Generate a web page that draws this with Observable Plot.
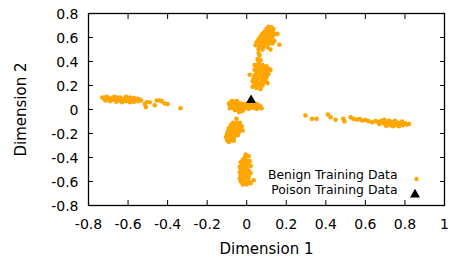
<!DOCTYPE html>
<html><head><meta charset="utf-8">
<script src="https://cdn.jsdelivr.net/npm/d3@7"></script>
<script src="https://cdn.jsdelivr.net/npm/@observablehq/plot@0.6"></script>
<style>body{margin:0;background:#fff} svg{font-family:"DejaVu Sans",sans-serif}</style>
</head><body><div id="chart"></div>
<script>
const xTicks = [-0.8, -0.6, -0.4, -0.2, 0, 0.2, 0.4, 0.6, 0.8, 1];
const yTicks = [-0.8, -0.6, -0.4, -0.2, 0, 0.2, 0.4, 0.6, 0.8];
const xLabel = "Dimension 1";
const yLabel = "Dimension 2";
const legendLabels = ["Benign Training Data", "Poison Training Data"];

const benignLeftArm = [[-0.73,0.10],[-0.72,0.09],[-0.71,0.105],[-0.70,0.08],[-0.70,0.10],[-0.69,0.07],[-0.68,0.095],[-0.67,0.08],[-0.67,0.105],[-0.66,0.065],[-0.65,0.09],[-0.64,0.10],[-0.64,0.075],[-0.63,0.06],[-0.62,0.09],[-0.61,0.105],[-0.61,0.07],[-0.60,0.085],[-0.59,0.06],[-0.59,0.10],[-0.58,0.08],[-0.57,0.095],[-0.57,0.065],[-0.56,0.085],[-0.55,0.07],[-0.55,0.09],[-0.54,0.08],[-0.715,0.075],[-0.685,0.085],[-0.655,0.10],[-0.625,0.08],[-0.595,0.075],[-0.565,0.075],[-0.535,0.075],
  [-0.515,0.045],[-0.51,0.02],[-0.505,0.06],[-0.49,0.06],[-0.465,0.035],[-0.455,0.075],[-0.44,0.075],[-0.43,0.07],[-0.415,0.05],[-0.40,0.045],[-0.335,0.01]];
const benignCenter = [[-0.09,0.05],[-0.085,0.03],[-0.08,0.06],[-0.075,0.04],[-0.07,0.015],[-0.065,0.065],[-0.06,0.045],[-0.055,0.02],[-0.05,0.0],[-0.045,0.055],[-0.04,0.035],[-0.035,0.01],[-0.03,-0.015],[-0.03,0.05],[-0.02,0.03],[-0.015,0.005],[-0.01,0.045],[0.0,0.02],[0.005,0.04],[0.01,0.005],[0.02,0.03],[0.03,0.015],[0.035,0.045],[0.045,0.025],[0.05,0.005],[0.06,0.035],[0.065,0.015],[0.07,0.025],[-0.04,-0.02],[-0.06,-0.005],
  [-0.075,0.07],[-0.05,0.07],[-0.085,0.01],[-0.02,-0.01],[0.015,0.055],[0.05,0.045],[0.075,0.01]];
const benignUpperMid = [[0.04,0.37],[0.06,0.38],[0.08,0.37],[0.10,0.36],[0.05,0.35],[0.07,0.35],[0.09,0.345],[0.11,0.34],[0.04,0.33],[0.06,0.325],[0.08,0.33],[0.10,0.32],[0.12,0.33],[0.05,0.305],[0.07,0.30],[0.09,0.30],[0.11,0.295],[0.015,0.29],[0.04,0.285],[0.06,0.28],[0.08,0.275],[0.10,0.27],[0.035,0.26],[0.055,0.255],[0.075,0.25],[0.095,0.25],[0.03,0.235],[0.05,0.23],[0.07,0.225],[0.09,0.23],[0.105,0.22],[0.04,0.21],[0.06,0.205],[0.08,0.20],[0.03,0.19],[0.05,0.18],[0.07,0.17],
  [0.06,0.47],[0.065,0.45],[0.055,0.42],[0.07,0.41],[0.06,0.395]];
const benignUpperTop = [[0.11,0.69],[0.125,0.685],[0.10,0.67],[0.12,0.665],[0.135,0.67],[0.09,0.65],[0.11,0.65],[0.13,0.645],[0.08,0.63],[0.10,0.625],[0.12,0.625],[0.14,0.63],[0.155,0.63],[0.07,0.61],[0.09,0.605],[0.11,0.60],[0.13,0.605],[0.06,0.585],[0.08,0.58],[0.10,0.58],[0.12,0.575],[0.14,0.57],[0.05,0.56],[0.07,0.555],[0.09,0.555],[0.11,0.55],[0.13,0.55],[0.165,0.54],[0.045,0.535],[0.065,0.53],[0.085,0.525],[0.105,0.52],[0.12,0.50],[0.06,0.505],[0.08,0.50]];
const benignLowerLeft = [[-0.052,-0.078],[-0.07,-0.11],[-0.05,-0.115],[-0.035,-0.11],[-0.08,-0.13],[-0.06,-0.135],[-0.04,-0.13],[-0.025,-0.14],[-0.09,-0.155],[-0.07,-0.155],[-0.05,-0.16],[-0.03,-0.165],[-0.02,-0.175],[-0.095,-0.18],[-0.075,-0.18],[-0.055,-0.185],[-0.04,-0.19],[-0.10,-0.205],[-0.08,-0.205],[-0.06,-0.21],[-0.045,-0.215],[-0.105,-0.23],[-0.085,-0.23],[-0.065,-0.235],[-0.10,-0.255],[-0.08,-0.255],[-0.065,-0.26],[-0.09,-0.27]];
const benignBottom = [[-0.005,-0.375],[0.01,-0.39],[-0.01,-0.40],[-0.02,-0.42],[0.0,-0.425],[0.015,-0.43],[-0.03,-0.44],[-0.01,-0.445],[0.005,-0.45],[-0.025,-0.46],[-0.005,-0.465],[0.02,-0.47],[-0.035,-0.48],[-0.015,-0.485],[0.0,-0.49],[-0.03,-0.505],[-0.01,-0.51],[0.01,-0.51],[-0.035,-0.525],[-0.015,-0.53],[0.005,-0.535],[0.02,-0.53],[-0.03,-0.55],[-0.01,-0.555],[0.01,-0.56],[-0.035,-0.575],[-0.015,-0.58],[0.005,-0.58],[0.035,-0.59],[-0.03,-0.60],[-0.01,-0.605],[0.01,-0.60],[-0.02,-0.625],[0.0,-0.625],[0.02,-0.615]];
const benignRightArm = [[0.297,-0.05],[0.33,-0.078],[0.353,-0.078],[0.41,-0.042],[0.424,-0.064],[0.449,-0.086],[0.488,-0.078],[0.494,-0.097],[0.525,-0.064],[0.54,-0.078],[0.558,-0.086],[0.572,-0.08],[0.584,-0.092],[0.60,-0.088],[0.615,-0.097],[0.634,-0.106],[0.651,-0.097],[0.665,-0.105],[0.68,-0.095],[0.69,-0.115],[0.70,-0.10],[0.71,-0.12],[0.72,-0.095],[0.725,-0.13],[0.735,-0.105],[0.745,-0.12],[0.75,-0.095],[0.76,-0.13],[0.765,-0.11],[0.775,-0.12],[0.785,-0.10],[0.79,-0.13],[0.80,-0.115],[0.81,-0.125],[0.82,-0.12],[0.67,-0.12],[0.74,-0.14],[0.705,-0.135],[0.77,-0.14],[0.695,-0.085]];
const poison = [[0.022,0.078]];

const benign = [...benignLeftArm, ...benignCenter, ...benignUpperMid, ...benignUpperTop, ...benignLowerLeft, ...benignBottom, ...benignRightArm];
const orange = "#FFA500";
const fmt = d => String(Math.round(d * 10) / 10);
const font = '"DejaVu Sans", sans-serif';

const chart = Plot.plot({
  width: 450,
  height: 257,
  marginLeft: 88,
  marginRight: 6,
  marginTop: 13,
  marginBottom: 52,
  style: {fontSize: "14px", fontFamily: font, color: "#000", background: "#fff"},
  x: {domain: [-0.8, 1]},
  y: {domain: [-0.8, 0.8]},
  marks: [
    Plot.axisX({anchor: "bottom", ticks: xTicks, tickSize: 0, tickPadding: 13.5, tickFormat: fmt, fontSize: 14, label: xLabel, labelAnchor: "center", labelArrow: "none", labelOffset: 48}),
    Plot.axisX({anchor: "bottom", ticks: xTicks, tickSize: -5, tickFormat: () => "", label: null}),
    Plot.axisX({anchor: "top", ticks: xTicks, tickSize: -5, tickFormat: () => "", label: null}),
    Plot.axisY({anchor: "left", ticks: yTicks, tickSize: 0, tickPadding: 10, dy: 1, tickFormat: fmt, fontSize: 14, label: yLabel, labelAnchor: "center", labelArrow: "none", labelOffset: 73}),
    Plot.axisY({anchor: "left", ticks: yTicks, tickSize: -5, tickFormat: () => "", label: null}),
    Plot.axisY({anchor: "right", ticks: yTicks, tickSize: -5, tickFormat: () => "", label: null}),
    Plot.dot(benign, {x: d => d[0], y: d => d[1], r: 2.3, fill: orange}),
    Plot.dot(poison, {x: d => d[0], y: d => d[1], r: 3.7, symbol: "triangle", fill: "black"}),
    Plot.text(legendLabels.slice(0, 1), {frameAnchor: "bottom-right", dx: -47, dy: -26.5, textAnchor: "end", fontSize: 12.4}),
    Plot.text(legendLabels.slice(1, 2), {frameAnchor: "bottom-right", dx: -47, dy: -11.5, textAnchor: "end", fontSize: 12.4}),
    Plot.dot([0], {frameAnchor: "bottom-right", dx: -28, dy: -26.5, r: 2.2, fill: orange}),
    Plot.dot([0], {frameAnchor: "bottom-right", dx: -29.5, dy: -11, r: 3.7, symbol: "triangle", fill: "black"}),
    Plot.frame({stroke: "black", strokeWidth: 1.3})
  ]
});
document.getElementById("chart").appendChild(chart);
// axis label text size (larger than tick labels)
chart.querySelectorAll('[aria-label="x-axis label"] text, [aria-label="y-axis label"] text').forEach(t => t.setAttribute("font-size", "15"));
</script>
</body></html>
